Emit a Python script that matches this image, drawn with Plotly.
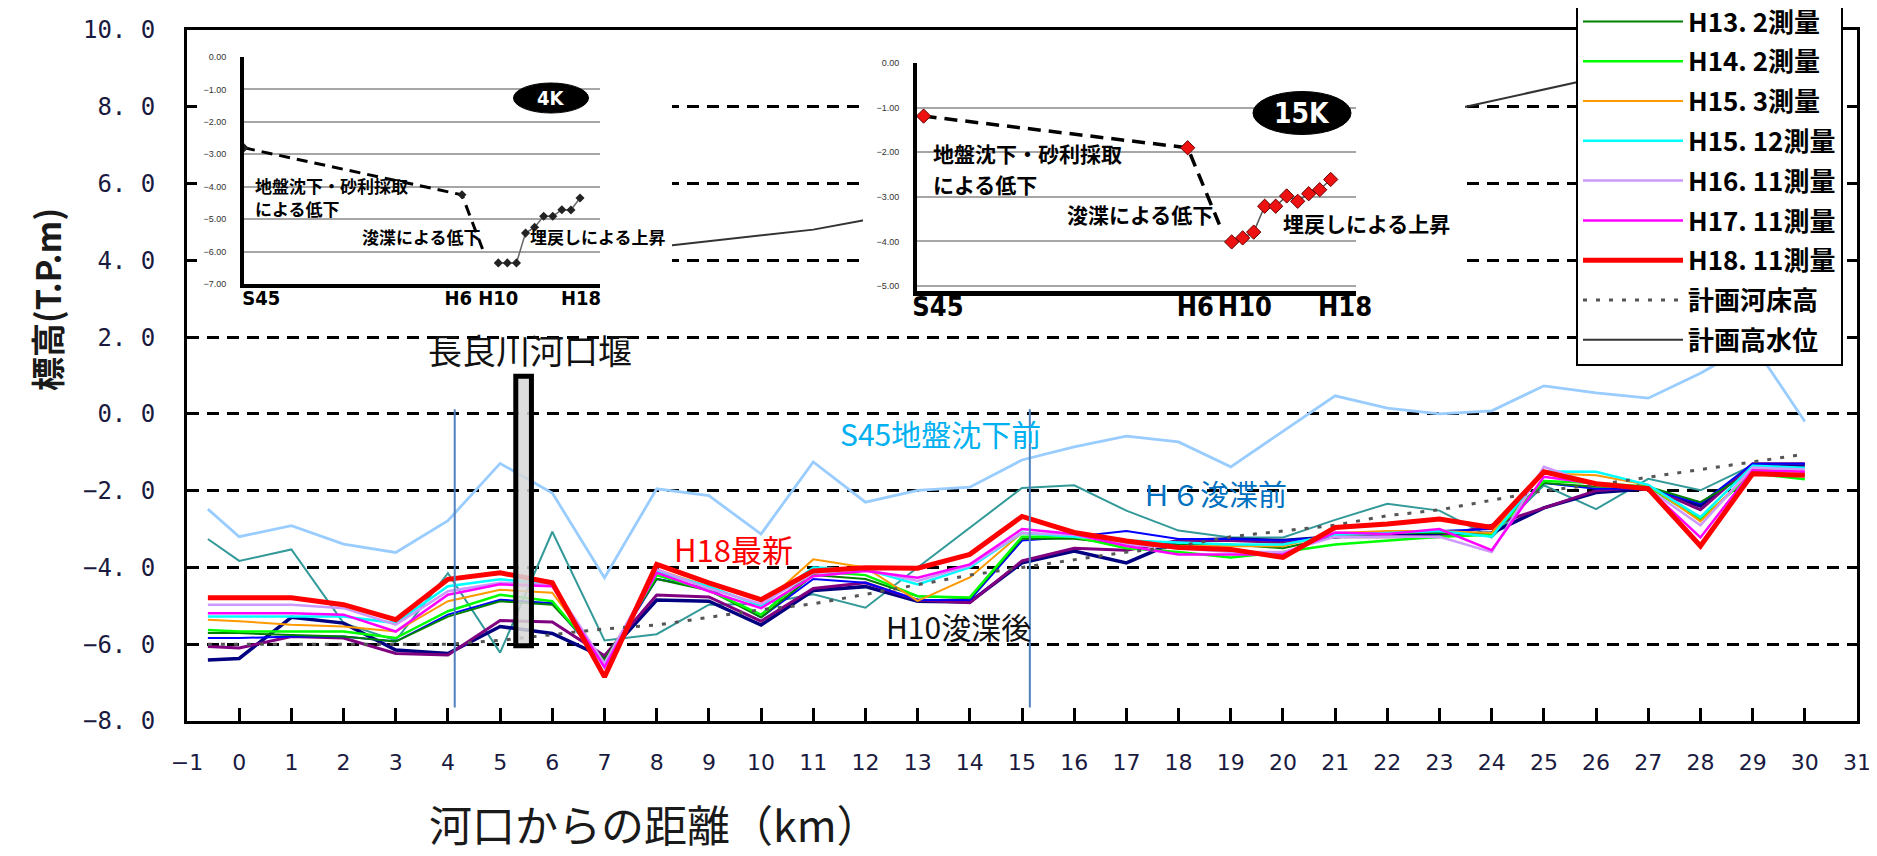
import plotly.graph_objects as go

# ---------------- data ----------------
km = [-0.6, 0, 1, 2, 3, 4, 5, 6, 7, 8, 9, 10, 11, 12, 13, 14, 15,
      16, 17, 18, 19, 20, 21, 22, 23, 24, 25, 26, 27, 28, 29, 30]

s45 = [-2.48, -3.2, -2.91, -3.39, -3.61, -2.78, -1.29, -2.06, -4.27, -1.95, -2.13, -3.13, -1.25, -2.3, -1.99, -1.91,
       -1.2, -0.86, -0.58, -0.73, -1.38, -0.46, 0.47, 0.15, 0.0, 0.08, 0.73, 0.55, 0.41, 1.06, 1.83, -0.2]
h6 = [-3.26, -3.83, -3.53, -5.45, -5.9, -4.15, -6.22, -3.07, -5.9, -5.74, -4.97, -4.95, -4.7, -5.05, -4.0, -2.97,
      -1.93, -1.86, -2.52, -3.04, -3.22, -3.22, -2.76, -2.34, -2.52, -3.22, -1.86, -2.48, -1.69, -1.99, -1.34, -1.3]
h10 = [-6.41, -6.37, -5.3, -5.45, -6.15, -6.24, -5.54, -5.72, -6.35, -4.85, -4.88, -5.5, -4.6, -4.5, -4.88, -4.9,
       -3.88, -3.57, -3.88, -3.3, -3.26, -3.3, -3.2, -3.1, -3.15, -3.1, -2.45, -2.05, -1.95, -2.4, -1.35, -1.35]
h11 = [-6.06, -6.1, -5.8, -5.84, -6.24, -6.28, -5.38, -5.42, -6.3, -4.72, -4.77, -5.4, -4.55, -4.4, -4.85, -4.92,
       -3.83, -3.5, -3.55, -3.3, -3.3, -3.35, -3.2, -3.2, -3.2, -2.9, -2.45, -2.0, -1.9, -2.5, -1.3, -1.3]
h12 = [-5.84, -5.84, -5.8, -5.8, -5.93, -5.23, -4.84, -4.93, -6.5, -4.3, -4.55, -5.3, -4.3, -4.4, -4.85, -4.85,
       -3.3, -3.2, -3.05, -3.26, -3.26, -3.3, -3.2, -3.1, -3.05, -3.0, -1.8, -1.95, -1.95, -2.34, -1.3, -1.3]
h13 = [-5.71, -5.71, -5.76, -5.8, -5.93, -5.28, -4.88, -4.97, -6.4, -4.3, -4.6, -5.3, -4.2, -4.3, -4.75, -4.8,
       -3.25, -3.25, -3.4, -3.4, -3.4, -3.5, -3.2, -3.1, -3.1, -3.1, -1.8, -1.9, -1.9, -2.3, -1.5, -1.6]
h14 = [-5.63, -5.67, -5.67, -5.67, -5.84, -5.14, -4.71, -4.88, -6.5, -4.2, -4.6, -5.23, -4.1, -4.2, -4.75, -4.78,
       -3.2, -3.2, -3.5, -3.6, -3.74, -3.6, -3.4, -3.3, -3.2, -3.15, -1.75, -1.8, -1.9, -2.75, -1.55, -1.7]
h15_3 = [-5.36, -5.4, -5.49, -5.54, -5.67, -4.88, -4.58, -4.66, -6.5, -4.05, -4.5, -5.0, -3.79, -4.0, -4.87, -4.26,
         -3.1, -3.2, -3.35, -3.45, -3.45, -3.45, -3.1, -3.05, -3.05, -3.1, -1.55, -1.6, -1.85, -2.8, -1.45, -1.5]
h15_12 = [-5.28, -5.28, -5.28, -5.28, -5.45, -4.49, -4.31, -4.44, -6.6, -4.1, -4.5, -5.0, -4.0, -4.05, -4.44, -4.0,
          -3.1, -3.2, -3.3, -3.35, -3.4, -3.4, -3.15, -3.1, -3.05, -3.2, -1.5, -1.51, -1.85, -2.69, -1.35, -1.4]
h16 = [-4.97, -4.97, -4.97, -5.06, -5.49, -4.62, -4.4, -4.44, -6.5, -4.05, -4.55, -4.95, -4.15, -4.05, -4.35, -3.95,
       -3.1, -3.15, -3.4, -3.5, -3.6, -3.6, -3.2, -3.2, -3.2, -3.6, -1.38, -1.85, -1.95, -2.9, -1.4, -1.45]
h17 = [-5.19, -5.19, -5.19, -5.23, -5.67, -4.71, -4.44, -4.49, -6.6, -4.14, -4.62, -5.06, -4.23, -4.09, -4.27, -3.92,
       -3.0, -3.13, -3.44, -3.66, -3.66, -3.66, -3.09, -3.13, -3.0, -3.55, -1.64, -1.82, -1.95, -3.22, -1.47, -1.51]
h18 = [-4.79, -4.79, -4.79, -4.97, -5.36, -4.31, -4.14, -4.4, -6.85, -3.92, -4.4, -4.84, -4.09, -4.01, -4.02, -3.66,
       -2.67, -3.09, -3.31, -3.48, -3.53, -3.74, -2.96, -2.87, -2.74, -2.96, -1.51, -1.82, -1.95, -3.44, -1.56, -1.6]
plan_bed = [-6.0, -6.0, -6.0, -6.0, -6.0, -6.0, -5.9, -5.75, -5.6, -5.5, -5.3, -5.1, -4.95, -4.7, -4.45, -4.2,
            -4.0, -3.8, -3.6, -3.45, -3.2, -3.05, -2.9, -2.65, -2.5, -2.25, -2.0, -1.85, -1.65, -1.45, -1.25, -1.05]
plan_hwl = [2.9, 3.0, 3.2, 3.4, 3.55, 3.7, 3.85, 4.0, 4.15, 4.35, 4.5, 4.65, 4.8, 5.05, 5.3, 5.55,
            5.8, 6.05, 6.3, 6.55, 6.8, 7.05, 7.3, 7.55, 7.85, 8.15, 8.45, 8.75, 9.0, 9.3, 9.55, 9.8]

y_ticks = [-8, -6, -4, -2, 0, 2, 4, 6, 8, 10]
y_ticktext = ["−8. 0", "−6. 0", "−4. 0", "−2. 0", "0. 0", "2. 0", "4. 0", "6. 0", "8. 0", "10. 0"]
x_ticks = [-1, 0, 1, 2, 3, 4, 5, 6, 7, 8, 9, 10, 11, 12, 13, 14, 15, 16, 17, 18, 19, 20, 21, 22, 23, 24, 25,
           26, 27, 28, 29, 30, 31]

# inset data (survey year vs. bed level)
inset_years = [1970, 1994, 1998, 1999, 2000, 2001, 2002, 2003, 2004, 2005, 2006, 2007]
k4_vals = [-2.8, -4.25, -6.35, -6.35, -6.35, -5.43, -5.25, -4.91, -4.91, -4.71, -4.72, -4.35]
k15_vals = [-1.19, -1.90, -4.01, -3.92, -3.79, -3.21, -3.21, -2.98, -3.10, -2.93, -2.84, -2.61]
k4_drop = (1996.3, -5.95)
k15_drop = (1997.1, -3.75)
inset_ticklabels = ["S45", "H6", "H10", "H18"]
inset1_tickvals = [1971.9, 1993.6, 1998.0, 2007.1]
inset2_tickvals = [1971.3, 1994.7, 1999.2, 2008.3]

weir_km = (5.30, 5.60)
weir_level = (-6.04, 0.98)
section_km = [4.13, 15.15]

# ---------------- layout helpers ----------------
W, H = 1877, 856
PL, PR, PT, PB = 179, 1849, 22, 713


def xp(px):
    return (px - PL) / (PR - PL)


def yp(py):
    return (PB - py) / (PB - PT)


JP = "Noto Sans CJK JP"
COND = "DejaVu Sans Condensed"
DY = -7  # vertical correction for CJK text centring

fig = go.Figure()

series = [
    ("S45測量", s45, "#99CCFF", 2.8, "solid", 1),
    ("H6測量", h6, "#339999", 2, "solid", 2),
    ("H10測量", h10, "#000080", 3.5, "solid", 3),
    ("H11測量", h11, "#800080", 3, "solid", 4),
    ("H12測量", h12, "#0000FF", 2, "solid", 5),
    ("H13. 2測量", h13, "#008000", 2, "solid", 6),
    ("H14. 2測量", h14, "#00FF00", 2.5, "solid", 7),
    ("H15. 3測量", h15_3, "#FF9900", 2, "solid", 8),
    ("H15. 12測量", h15_12, "#00FFFF", 2.5, "solid", 9),
    ("H16. 11測量", h16, "#CC99FF", 2.5, "solid", 10),
    ("H17. 11測量", h17, "#FF00FF", 2.5, "solid", 11),
    ("計画河床高", plan_bed, "#555555", 3, "4px,9px", 13),
    ("H18. 11測量", h18, "#FF0000", 5, "solid", 12),
    ("計画高水位", plan_hwl, "#333333", 2, "solid", 14),
]
for name, vals, color, width, dash, rank in series:
    fig.add_trace(go.Scatter(
        x=km, y=vals, mode="lines", name=name,
        line=dict(color=color, width=width, dash=dash),
        legendgroup=name, legendrank=rank, hoverinfo="skip"))

# white background panels behind the two inset charts
for ax in ("2", "3"):
    fig.add_trace(go.Scatter(x=[None], y=[None], xaxis="x" + ax, yaxis="y" + ax,
                             showlegend=False, hoverinfo="skip"))

# inset 1 (4K)
fig.add_trace(go.Scatter(
    x=[inset_years[0], inset_years[1], k4_drop[0]], y=[k4_vals[0], k4_vals[1], k4_drop[1]],
    xaxis="x4", yaxis="y4", mode="lines", line=dict(color="black", width=3, dash="11px,7px"),
    showlegend=False, hoverinfo="skip"))
fig.add_trace(go.Scatter(
    x=inset_years[2:], y=k4_vals[2:], xaxis="x4", yaxis="y4", mode="lines+markers",
    line=dict(color="#666666", width=1.5),
    marker=dict(symbol="diamond", size=7, color="#222222"),
    showlegend=False, hoverinfo="skip"))
fig.add_trace(go.Scatter(
    x=inset_years[:2], y=k4_vals[:2], xaxis="x4", yaxis="y4", mode="markers",
    marker=dict(symbol="diamond", size=7, color="#222222"),
    showlegend=False, hoverinfo="skip"))

# inset 2 (15K)
fig.add_trace(go.Scatter(
    x=[inset_years[0], inset_years[1], k15_drop[0]], y=[k15_vals[0], k15_vals[1], k15_drop[1]],
    xaxis="x5", yaxis="y5", mode="lines", line=dict(color="black", width=3.5, dash="13px,8px"),
    showlegend=False, hoverinfo="skip"))
fig.add_trace(go.Scatter(
    x=inset_years[2:], y=k15_vals[2:], xaxis="x5", yaxis="y5", mode="lines+markers",
    line=dict(color="#555555", width=1.5),
    marker=dict(symbol="diamond", size=11, color="#EE1111", line=dict(color="#660000", width=1)),
    showlegend=False, hoverinfo="skip"))
fig.add_trace(go.Scatter(
    x=inset_years[:2], y=k15_vals[:2], xaxis="x5", yaxis="y5", mode="markers",
    marker=dict(symbol="diamond", size=11, color="#EE1111", line=dict(color="#660000", width=1)),
    showlegend=False, hoverinfo="skip"))

shapes = []
# weir
shapes.append(dict(type="rect", xref="x", yref="y", x0=weir_km[0], x1=weir_km[1], y0=weir_level[0],
                   y1=weir_level[1], line=dict(color="black", width=5),
                   fillcolor="rgba(215,215,215,0.85)", layer="above"))
for sk in section_km:
    shapes.append(dict(type="line", xref="x", yref="y", x0=sk, x1=sk, y0=-7.65, y1=0.12,
                       line=dict(color="#4F81BD", width=2), layer="above"))
# ellipses
for cx, cy, w, h in [(543, 90, 75, 30), (1294, 105, 98, 43)]:
    shapes.append(dict(type="circle", xref="paper", yref="paper",
                       x0=xp(cx - w / 2), x1=xp(cx + w / 2), y0=yp(cy + h / 2), y1=yp(cy - h / 2),
                       fillcolor="black", line=dict(color="black", width=1), layer="above"))

ann = []


def add_text(text, px, py, size, color="black", xanchor="center", bold=False, family=JP, angle=0, dy=DY):
    ann.append(dict(text=text, x=xp(px), y=yp(py + dy), xref="paper", yref="paper",
                    xanchor=xanchor, yanchor="middle", showarrow=False, textangle=angle,
                    font=dict(family=family, size=size, color=color,
                              weight="bold" if bold else "normal")))


# main labels
add_text("長良川河口堰", 522, 348, 34, "#111111")
add_text("S45地盤沈下前", 932, 432, 30, "#00B0F0")
add_text("Ｈ６浚渫前", 1206, 492, 29, "#0070C0")
add_text("H18最新", 725, 547, 31, "#FF0000")
add_text("H10浚渫後", 950, 625, 30, "#111111")
add_text("河口からの距離（km）", 646, 822, 43, "#1a1a1a")
add_text("標高(T.P.m)", 38, 292, 34, "#1a1a1a", bold=True, angle=-90, dy=0)

# inset 1 labels
add_text("4K", 543, 90, 20, "white", bold=True, family=COND, dy=0)
add_text("地盤沈下・砂利採取", 245, 184, 17, xanchor="left", bold=True)
add_text("による低下", 245, 207, 17, xanchor="left", bold=True)
add_text("浚渫による低下", 352, 236, 17, xanchor="left", bold=True)
add_text("埋戻しによる上昇", 520, 236, 17, xanchor="left", bold=True)
# inset 2 labels
add_text("15K", 1294, 105, 28, "white", bold=True, family=COND, dy=0)
add_text("地盤沈下・砂利採取", 923, 152, 21, xanchor="left", bold=True)
add_text("による低下", 923, 183, 21, xanchor="left", bold=True)
add_text("浚渫による低下", 1057, 213, 21, xanchor="left", bold=True)
add_text("埋戻しによる上昇", 1273, 222, 21, xanchor="left", bold=True)

hidden = dict(visible=False)

layout = dict(
    width=W, height=H,
    margin=dict(l=PL, r=W - PR, t=PT, b=H - PB, autoexpand=False),
    paper_bgcolor="white", plot_bgcolor="white",
    showlegend=True,
    xaxis=dict(range=[-1, 31], tickmode="array", tickvals=x_ticks, ticks="inside", ticklen=13,
               tickwidth=3, tickcolor="black", showline=True, linecolor="black", linewidth=3,
               mirror=True, showgrid=False, zeroline=False, ticklabelstandoff=20,
               tickfont=dict(family="DejaVu Sans", size=22, color="#1a1a40")),
    yaxis=dict(range=[-8, 10], tickmode="array", tickvals=y_ticks, ticktext=y_ticktext,
               ticks="inside", ticklen=8, tickwidth=3, tickcolor="black", showline=True,
               linecolor="black", linewidth=3, mirror=True, showgrid=True, gridcolor="black",
               gridwidth=2.5, griddash="12px,8px", zeroline=False, ticklabelstandoff=24,
               tickfont=dict(family="DejaVu Sans Mono", size=24, color="#1a1a40")),
    xaxis2=dict(domain=[xp(189), xp(664)], anchor="y2", **hidden),
    yaxis2=dict(domain=[yp(320), yp(24)], anchor="x2", **hidden),
    xaxis3=dict(domain=[xp(855), xp(1457)], anchor="y3", **hidden),
    yaxis3=dict(domain=[yp(322), yp(24)], anchor="x3", **hidden),
    xaxis4=dict(domain=[xp(236), xp(592)], anchor="y4", range=[1970, 2009.2], showline=True,
                linecolor="black", linewidth=4, showgrid=False, zeroline=False,
                tickmode="array", tickvals=inset1_tickvals, ticktext=inset_ticklabels, ticks="",
                ticklabelstandoff=-7, tickangle=0,
                tickfont=dict(family=COND, size=20, color="black", weight="bold")),
    yaxis4=dict(domain=[yp(276), yp(49)], anchor="x4", range=[-7, 0], dtick=1, tickformat=".2f",
                showline=True, linecolor="black", linewidth=4, showgrid=True, gridcolor="#A6A6A6",
                gridwidth=2, zeroline=False, ticks="", ticklabelstandoff=12,
                tickfont=dict(family="Liberation Sans", size=9, color="#333333")),
    xaxis5=dict(domain=[xp(909), xp(1348)], anchor="y5", range=[1969.4, 2009.3], showline=True,
                linecolor="black", linewidth=5, showgrid=False, zeroline=False,
                tickmode="array", tickvals=inset2_tickvals, ticktext=inset_ticklabels, ticks="",
                ticklabelstandoff=-12, tickangle=0,
                tickfont=dict(family=COND, size=27, color="black", weight="bold")),
    yaxis5=dict(domain=[yp(283), yp(55)], anchor="x5", range=[-5.11, 0], dtick=1, tickformat=".2f",
                showline=True, linecolor="black", linewidth=4, showgrid=True, gridcolor="#A6A6A6",
                gridwidth=2, zeroline=False, ticks="", ticklabelstandoff=12,
                tickfont=dict(family="Liberation Sans", size=9, color="#333333")),
    legend=dict(x=xp(1568), xanchor="left", y=yp(358), yanchor="bottom", bgcolor="white",
                bordercolor="black", borderwidth=2, traceorder="grouped", tracegroupgap=3,
                itemwidth=100,
                font=dict(family=JP, size=26, color="black", weight="bold")),
    shapes=shapes,
    annotations=ann,
)
fig.update_layout(**layout)

fig.write_html("out.html")
